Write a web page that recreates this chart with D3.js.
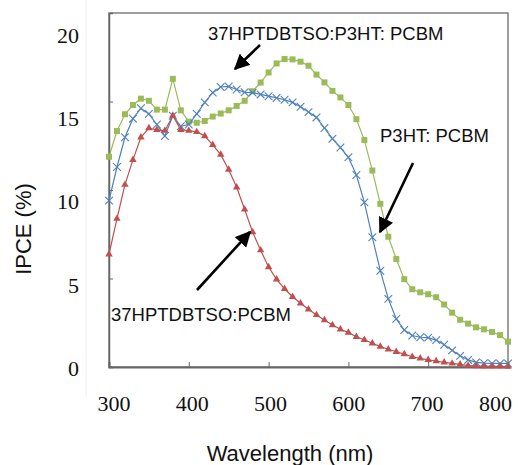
<!DOCTYPE html>
<html>
<head>
<meta charset="utf-8">
<script src="https://cdn.jsdelivr.net/npm/d3@7"></script>
<style>
  html, body { margin: 0; padding: 0; background: #fff; }
  svg { display: block; }
</style>
</head>
<body>
<svg id="chart" width="518" height="465"></svg>
<script>
// ---- data ----
const wavelengths = d3.range(300, 801, 10);
const redValues = [6.37, 8.38, 10.3, 11.7, 12.98, 13.5, 13.4, 13.35, 14.2, 13.4,
  13.35, 13.28, 13.05, 12.55, 12.0, 11.15, 10.15, 8.9, 7.62, 6.6,
  5.65, 4.95, 4.42, 3.97, 3.6, 3.26, 2.94, 2.65, 2.37, 2.13,
  1.94, 1.71, 1.53, 1.34, 1.15, 1.0, 0.86, 0.73, 0.58, 0.49,
  0.4, 0.34, 0.26, 0.2, 0.15, 0.08, 0.05, 0.04, 0.03, 0.03, 0.02];
const blueValues = [9.4, 11.3, 12.98, 14.03, 14.62, 14.3, 13.7, 13.05, 14.2, 13.6,
  13.7, 14.3, 14.95, 15.5, 15.82, 15.85, 15.68, 15.52, 15.5, 15.4,
  15.3, 15.2, 15.1, 14.95, 14.7, 14.4, 14.1, 13.5, 12.9, 12.4,
  11.85, 10.85, 9.3, 7.33, 5.44, 3.85, 2.72, 2.09, 1.78, 1.68,
  1.66, 1.52, 1.26, 0.94, 0.63, 0.4, 0.26, 0.22, 0.2, 0.2, 0.2];
const greenValues = [11.88, 13.33, 14.28, 14.8, 15.16, 15.04, 14.54, 14.54, 16.28, 14.5,
  13.86, 13.8, 13.9, 14.15, 14.32, 14.5, 14.75, 15.04, 15.58, 16.07,
  16.64, 17.15, 17.4, 17.38, 17.25, 17.02, 16.52, 16.08, 15.6, 15.23,
  14.8, 14.0, 12.82, 11.1, 9.22, 7.36, 6.1, 4.96, 4.39, 4.22,
  4.11, 3.94, 3.53, 3.07, 2.67, 2.45, 2.24, 2.13, 1.98, 1.8, 1.43];
const xTicks = [300, 400, 500, 600, 700, 800];
const yTicks = [0, 5, 10, 15, 20];
const seriesNames = ["37HPTDBTSO:P3HT: PCBM", "P3HT: PCBM", "37HPTDBTSO:PCBM"];
const xTitle = "Wavelength (nm)";
const yTitle = "IPCE (%)";

// ---- layout ----
const svg = d3.select("#chart");
const plot = { left: 109, right: 508, top: 13, bottom: 367 };
const x = d3.scaleLinear().domain([300, 800]).range([plot.left, plot.right]);
const y = d3.scaleLinear().domain([0, 20]).range([plot.bottom, plot.top]);
// tick labels in the original image sit on a slightly different grid
const xLab = d3.scaleLinear().domain([300, 700]).range([114, 427]);
const yLab = d3.scaleLinear().domain([0, 20]).range([368.5, 35]);

const colors = { green: "#9bbb59", blue: "#4f81bd", red: "#c0504d" };

// faint page border line
svg.append("line").attr("x1", 86).attr("x2", 86).attr("y1", 0).attr("y2", 398)
  .attr("stroke", "#f0f0f0").attr("stroke-width", 1);

// frame
svg.append("rect")
  .attr("x", plot.left).attr("y", plot.top)
  .attr("width", plot.right - plot.left).attr("height", plot.bottom - plot.top)
  .attr("fill", "none").attr("stroke", "#7f7f7f").attr("stroke-width", 1.5);

// axes (inward ticks)
const xAxis = d3.axisBottom(x).tickValues(xTicks).tickSize(-5).tickFormat("");
svg.append("g").attr("transform", `translate(0,${plot.bottom})`).call(xAxis)
  .call(g => g.select(".domain").attr("stroke", "#666").attr("stroke-width", 2))
  .call(g => g.selectAll(".tick line").attr("stroke", "#666"));
const yAxis = d3.axisLeft(y).tickValues(yTicks).tickSize(-4).tickFormat("");
svg.append("g").attr("transform", `translate(${plot.left},0)`).call(yAxis)
  .call(g => g.select(".domain").attr("stroke", "#666").attr("stroke-width", 1.5))
  .call(g => g.selectAll(".tick line").attr("stroke", "#666"));

// tick labels
svg.append("g").selectAll("text").data(xTicks).join("text")
  .attr("x", d => d === 800 ? 512 : xLab(d))
  .attr("y", 403)
  .attr("text-anchor", d => d === 800 ? "end" : "middle")
  .attr("dominant-baseline", "central")
  .attr("font-family", "'Liberation Serif', 'Times New Roman', serif")
  .attr("font-size", 22).attr("fill", "#111")
  .text(d => d);
svg.append("g").selectAll("text").data(yTicks).join("text")
  .attr("x", 79).attr("y", d => yLab(d))
  .attr("text-anchor", "end").attr("dominant-baseline", "central")
  .attr("font-family", "'Liberation Serif', 'Times New Roman', serif")
  .attr("font-size", 22).attr("fill", "#111")
  .text(d => d);

// axis titles
svg.append("text").attr("x", 290).attr("y", 453)
  .attr("text-anchor", "middle").attr("dominant-baseline", "central")
  .attr("font-family", "'Liberation Sans', Arial, sans-serif").attr("font-size", 22)
  .attr("fill", "#111").text(xTitle);
svg.append("text").attr("transform", "translate(23,229) rotate(-90)")
  .attr("text-anchor", "middle").attr("dominant-baseline", "central")
  .attr("font-family", "'Liberation Sans', Arial, sans-serif").attr("font-size", 22)
  .attr("fill", "#111").text(yTitle);

// series
const line = d3.line().x(d => x(d[0])).y(d => y(d[1]));
function pts(vals) { return wavelengths.map((w, i) => [w, vals[i]]); }

const green = pts(greenValues), blue = pts(blueValues), red = pts(redValues);

svg.append("path").datum(green).attr("d", line).attr("fill", "none")
  .attr("stroke", colors.green).attr("stroke-width", 1.2);
svg.append("g").selectAll("rect").data(green).join("rect")
  .attr("x", d => x(d[0]) - 3).attr("y", d => y(d[1]) - 3)
  .attr("width", 6).attr("height", 6).attr("fill", colors.green);

svg.append("path").datum(blue).attr("d", line).attr("fill", "none")
  .attr("stroke", colors.blue).attr("stroke-width", 1.2);
const cross = d3.symbol().type(d3.symbolX).size(40);
svg.append("g").selectAll("path").data(blue).join("path")
  .attr("transform", d => `translate(${x(d[0])},${y(d[1])})`)
  .attr("d", cross).attr("fill", "none").attr("stroke", colors.blue).attr("stroke-width", 1.1);

svg.append("path").datum(red).attr("d", line).attr("fill", "none")
  .attr("stroke", colors.red).attr("stroke-width", 1.2);
const tri = d3.symbol().type(d3.symbolTriangle).size(24);
svg.append("g").selectAll("path").data(red).join("path")
  .attr("transform", d => `translate(${x(d[0])},${y(d[1])})`)
  .attr("d", tri).attr("fill", colors.red);

// annotations
const defs = svg.append("defs");
defs.append("marker").attr("id", "arrow")
  .attr("viewBox", "0 0 10 10").attr("refX", 9).attr("refY", 5)
  .attr("markerWidth", 6).attr("markerHeight", 6).attr("markerUnits", "strokeWidth")
  .attr("orient", "auto")
  .append("path").attr("d", "M0,0 L10,5 L0,10 Z").attr("fill", "#000");

const annFont = "'Liberation Sans', Arial, sans-serif";
svg.append("text").attr("x", 208).attr("y", 33).attr("dominant-baseline", "central")
  .attr("font-family", annFont).attr("font-size", 18.5).attr("fill", "#111").text(seriesNames[0]);
svg.append("text").attr("x", 380).attr("y", 135).attr("dominant-baseline", "central")
  .attr("font-family", annFont).attr("font-size", 18.5).attr("fill", "#111").text(seriesNames[1]);
svg.append("text").attr("x", 111).attr("y", 314).attr("dominant-baseline", "central")
  .attr("font-family", annFont).attr("font-size", 18.5).attr("fill", "#111").text(seriesNames[2]);

const arrows = [
  [260, 45, 235, 69],
  [413, 163, 380, 232],
  [197, 290, 250, 232]
];
svg.append("g").selectAll("line").data(arrows).join("line")
  .attr("x1", d => d[0]).attr("y1", d => d[1]).attr("x2", d => d[2]).attr("y2", d => d[3])
  .attr("stroke", "#000").attr("stroke-width", 2.6).attr("marker-end", "url(#arrow)");
</script>
</body>
</html>
